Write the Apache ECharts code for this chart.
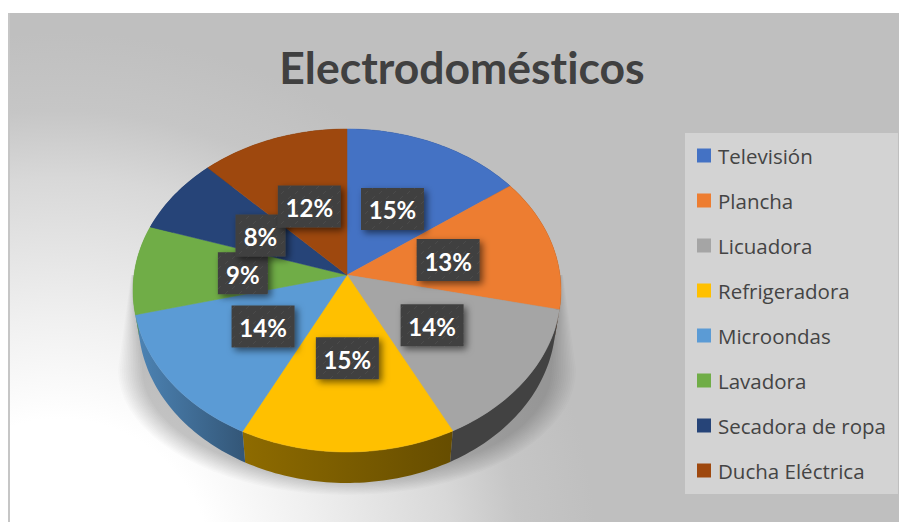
<!DOCTYPE html>
<html>
<head>
<meta charset="utf-8">
<title>Electrodomésticos</title>
<script src="https://cdn.jsdelivr.net/npm/echarts@6/dist/echarts.min.js"></script>
<style>
  html, body { margin: 0; padding: 0; background: #fff; }
  #main { width: 899px; height: 522px; }
  #main text { font-variant-ligatures: none; }
</style>
</head>
<body>
<div id="main"></div>
<script>
// valores (las etiquetas salen redondeadas)
const categories = ['Televisión', 'Plancha', 'Licuadora', 'Refrigeradora', 'Microondas', 'Lavadora', 'Secadora de ropa', 'Ducha Eléctrica'];
const shares = [15, 13.4, 14.1, 14.9, 13.7, 8.9, 7.7, 12.3];
const colors = ['#4472C4', '#ED7D31', '#A5A5A5', '#FFC000', '#5B9BD5', '#70AD47', '#264478', '#9E480E'];

const total = shares.reduce((a, b) => a + b, 0);
let acc = 0;
const spans = shares.map(v => { const s = [acc, acc + v, v]; acc += v; return s; });

// pie en perspectiva: circulo unidad proyectado
const CX = 347, CY = 275, RX = 213, RY = 160, K = 0.0959, DEPTH = 31, BASE = 0.975;
function proj(share, t) {
  const a = share / total * Math.PI * 2;
  const u = Math.sin(a) * t, v = -Math.cos(a) * t;
  const w = 1 / (1 - K * v);
  return [CX + RX * u * w, CY + RY * v * w];
}
function arc(s0, s1) {
  const pts = [];
  const n = Math.max(2, Math.ceil((s1 - s0) * 3));
  for (let i = 0; i <= n; i++) pts.push(proj(s0 + (s1 - s0) * i / n, 1));
  return pts;
}
function base(p) { return [CX + (p[0] - CX) * BASE, p[1] + DEPTH]; }

// sombreado de la pared segun x
function wallFactor(x) {
  if (x < 245) return 0.85 - 0.3 * (x - 135) / 110;
  if (x < 350) return 0.55 - 0.15 * (x - 245) / 105;
  return 0.4;
}
function darker(hex, f) {
  const c = echarts.color.parse(hex);
  return 'rgb(' + Math.round(c[0] * f) + ',' + Math.round(c[1] * f) + ',' + Math.round(c[2] * f) + ')';
}

// textura de las cajas de etiqueta
const tex = document.createElement('canvas');
tex.width = 14; tex.height = 10;
(function () {
  const g = tex.getContext('2d');
  g.fillStyle = '#404040'; g.fillRect(0, 0, 14, 10);
  g.strokeStyle = '#4b4b4b'; g.lineWidth = 1;
  g.beginPath(); g.moveTo(1, 4); g.lineTo(4, 1); g.moveTo(8, 9); g.lineTo(11, 6); g.stroke();
})();

const series = [{
  name: 'pared',
  type: 'custom',
  coordinateSystem: 'none',
  silent: true,
  z: 3,
  data: spans.map((s, i) => [s[0], s[1], i]),
  renderItem(params, api) {
    const top = arc(api.value(0), api.value(1));
    const bottom = top.map(base).reverse();
    const xs = top.map(p => p[0]);
    const c = colors[api.value(2)];
    return {
      type: 'polygon',
      shape: { points: top.concat(bottom) },
      style: {
        fill: new echarts.graphic.LinearGradient(0, 0, 1, 0, [
          { offset: 0, color: darker(c, wallFactor(Math.min.apply(null, xs))) },
          { offset: 1, color: darker(c, wallFactor(Math.max.apply(null, xs))) }
        ])
      }
    };
  }
}];

categories.forEach((name, i) => {
  series.push({
    name,
    type: 'custom',
    coordinateSystem: 'none',
    silent: true,
    z: 4,
    itemStyle: { color: colors[i] },
    data: [spans[i]],
    renderItem(params, api) {
      return {
        type: 'polygon',
        shape: { points: [[CX, CY]].concat(arc(api.value(0), api.value(1))) },
        style: { fill: colors[i], stroke: colors[i], lineWidth: 0.5 }
      };
    }
  });
});

series.push({
  name: 'etiquetas',
  type: 'custom',
  coordinateSystem: 'none',
  silent: true,
  z: 5,
  data: spans,
  renderItem(params, api) {
    const mid = (api.value(0) + api.value(1)) / 2;
    const p = proj(mid, 0.49);
    const txt = Math.round(api.value(2) / total * 100) + '%';
    const w = txt.length > 2 ? 63 : 50, h = 42;
    return {
      type: 'group',
      children: [{
        type: 'rect',
        shape: { x: p[0] - w / 2, y: p[1] - h / 2 + 1, width: w, height: h },
        style: {
          fill: { image: tex, repeat: 'repeat' },
          shadowBlur: 7, shadowOffsetX: 3, shadowOffsetY: 3, shadowColor: 'rgba(0,0,0,0.55)'
        }
      }, {
        type: 'text',
        style: {
          x: p[0], y: p[1] + 2, text: txt, fill: '#fff',
          font: 'bold 24px Lato', align: 'center', verticalAlign: 'middle'
        }
      }]
    };
  }
});

// sombra bajo el pie: capas muy suaves que se van ensanchando
const shadowLayers = [];
const LAYERS = 14;
for (let n = 0; n < LAYERS; n++) {
  const f = n / (LAYERS - 1);
  const rx = 205 + 24 * f, ry = 108 + 17 * f, topX = 212 + 4 * f;
  const pts = [[CX - topX, 275], [CX + topX, 275]];
  for (let i = 0; i <= 40; i++) {
    const a = Math.PI * i / 40;
    pts.push([CX + rx * Math.cos(a), 370 + ry * Math.sin(a)]);
  }
  shadowLayers.push({
    type: 'polygon',
    z: -1,
    silent: true,
    shape: { points: pts },
    style: { fill: 'rgba(0,0,0,0.017)' }
  });
}

const chart = echarts.init(document.getElementById('main'), null, { renderer: 'svg' });
chart.setOption({
  animation: false,
  title: {
    text: 'Electrodomésticos',
    left: 457,
    top: 39,
    textAlign: 'center',
    textStyle: { color: '#404040', fontFamily: 'Lato', fontWeight: 'bold', fontSize: 44.5 }
  },
  legend: {
    orient: 'vertical',
    left: 685,
    top: 133,
    padding: [12, 12, 13, 12],
    backgroundColor: '#d3d3d3',
    data: categories,
    icon: 'rect',
    itemWidth: 14,
    itemHeight: 14,
    itemGap: 24,
    selectedMode: false,
    textStyle: { color: '#444', fontFamily: 'Open Sans', fontSize: 20.5, lineHeight: 20, padding: [0, 0, 0, 2] }
  },
  graphic: [{
    type: 'rect',
    z: -2,
    silent: true,
    shape: { x: 8, y: 13, width: 891, height: 509 },
    style: {
      fill: new echarts.graphic.RadialGradient(60, 570, 560, [
        { offset: 0, color: '#ffffff' },
        { offset: 0.27, color: '#ffffff' },
        { offset: 0.45, color: '#f0f0f0' },
        { offset: 0.7, color: '#d8d8d8' },
        { offset: 0.82, color: '#c6c6c6' },
        { offset: 0.96, color: '#bfbfbf' },
        { offset: 1, color: '#bfbfbf' }
      ], true)
    }
  }, {
    type: 'rect',
    z: -2,
    silent: true,
    shape: { x: 8, y: 13, width: 2, height: 509 },
    style: { fill: '#c6c6c6' }
  }].concat(shadowLayers),
  series
});
</script>
</body>
</html>
